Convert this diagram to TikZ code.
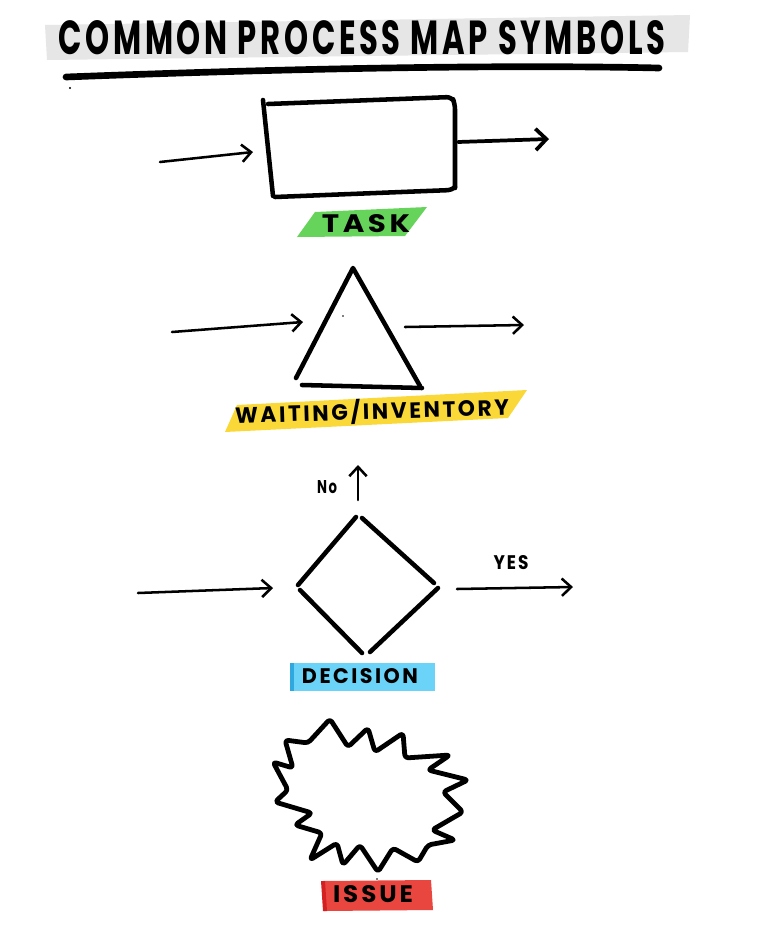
\documentclass[tikz,border=0pt]{standalone}
\usepackage{fontspec}
\setmainfont{Poppins}
\newfontfamily\hand[LetterSpace=12]{Poppins}
\usetikzlibrary{arrows.meta}
\newdimen\px \px=0.75pt
\definecolor{bandgray}{HTML}{E6E6E6}
\definecolor{taskgreen}{HTML}{66D45B}
\definecolor{waityellow}{HTML}{F9D838}
\definecolor{decblue}{HTML}{6AD3F7}
\definecolor{decbluedark}{HTML}{2FA8E0}
\definecolor{issuered}{HTML}{E9463F}
\definecolor{issuereddark}{HTML}{D42020}
\begin{document}
\begin{tikzpicture}[x=0.75pt,y=-0.75pt,line cap=round,line join=round,
  shapeline/.style={draw=black,line width=3.4pt},
  conn/.style={draw=black,line width=1.9pt,-{Straight Barb[length=7pt,width=13pt,line width=1.9pt]}},
  thickconn/.style={draw=black,line width=2.8pt,-{Straight Barb[length=8pt,width=16pt,line width=2.8pt]}},
  lbl/.style={inner sep=0pt,text=black}]
\useasboundingbox (0,0) rectangle (768,925);
\fill[white] (0,0) rectangle (768,925);

% title
\fill[bandgray] (45,25) -- (690,15) -- (688,52) -- (47,60) -- cycle;
\node[lbl] (title) at (362,38) {\resizebox{607\px}{34\px}{\hand\bfseries COMMON PROCESS MAP SYMBOLS}};
\draw[line width=5pt] (66,77) .. controls (250,70) and (480,64) .. (659,68);
\fill (70,88) circle (0.8pt);

% task
\draw[shapeline] (263,100) -- (273,196);
\draw[shapeline,rounded corners=4pt] (268,104) -- (452,97) -- (455,104) -- (455,188);
\draw[shapeline,rounded corners=3pt] (275,197) -- (452,190) -- (455,187);
\coordinate (tin0) at (160,162);
\coordinate (tin1) at (253,152);
\coordinate (tout0) at (458,142);
\coordinate (tout1) at (549,139);
\draw[conn] (tin0) -- (tin1);
\draw[thickconn] (tout0) -- (tout1);
\fill[taskgreen] (315,212) -- (427,207) -- (405,236) -- (297,237) -- cycle;
\node[lbl] (task) at (366,224) {\resizebox{88\px}{18\px}{\hand\bfseries TASK}};

% waiting / inventory
\draw[shapeline] (296,378) -- (353,268) -- (420,386);
\draw[shapeline] (302,385) -- (422,388);
\fill (343,316) circle (0.7pt);
\coordinate (win0) at (172,332);
\coordinate (win1) at (303,322);
\coordinate (wout0) at (405,327);
\coordinate (wout1) at (524,325);
\draw[conn] (win0) -- (win1);
\draw[conn] (wout0) -- (wout1);
\fill[waityellow] (237,405) -- (527,390) -- (508,418) -- (225,432) -- cycle;
\node[lbl,rotate=1.7] (wait) at (372,411) {\resizebox{274\px}{21\px}{\hand\bfseries WAITING/INVENTORY}};

% decision
\draw[shapeline] (298,585) -- (356,517);
\draw[shapeline] (362,518) -- (434,583);
\draw[shapeline] (438,588) -- (370,652);
\draw[shapeline] (300,590) -- (362,653);
\coordinate (din0) at (138,593);
\coordinate (din1) at (273,588);
\coordinate (dout0) at (457,589);
\coordinate (dout1) at (573,587);
\coordinate (dno0) at (358,500);
\coordinate (dno1) at (358,465);
\draw[conn] (din0) -- (din1);
\draw[conn] (dout0) -- (dout1);
\draw[conn] (dno0) -- (dno1);
\node[lbl] (no) at (327,487) {\resizebox{20\px}{13\px}{\hand\bfseries No}};
\node[lbl] (yes) at (511,563) {\resizebox{35\px}{14\px}{\hand\bfseries YES}};
\fill[decblue] (292,663) rectangle (435,691);
\fill[decbluedark] (290,663) rectangle (294,691);
\node[lbl] (decision) at (360,676) {\resizebox{116\px}{15\px}{\hand\bfseries DECISION}};

% issue
\draw[shapeline,line width=3.6pt,rounded corners=2.5pt]
  (330,719) -- (308,743) -- (285,740) -- (293,768) -- (273,762) -- (288,790)
  -- (275,802) -- (312,813) -- (295,825) -- (322,833) -- (310,860) -- (337,843)
  -- (343,865) -- (360,845) -- (378,872) -- (393,848) -- (418,862) -- (428,845)
  -- (455,840) -- (432,830) -- (463,812) -- (443,792) -- (468,780) -- (428,770)
  -- (450,755) -- (405,758) -- (403,733) -- (375,752) -- (368,728) -- (348,747)
  -- cycle;
\fill (377,879) circle (0.6pt);
\fill[issuered] (322,881) -- (431,880) -- (433,910) -- (324,911) -- cycle;
\fill[issuereddark] (321,881) -- (325,881) -- (327,911) -- (323,911) -- cycle;
\node[lbl] (issue) at (373,894) {\resizebox{80\px}{17\px}{\hand\bfseries ISSUE}};
\end{tikzpicture}
\end{document}
